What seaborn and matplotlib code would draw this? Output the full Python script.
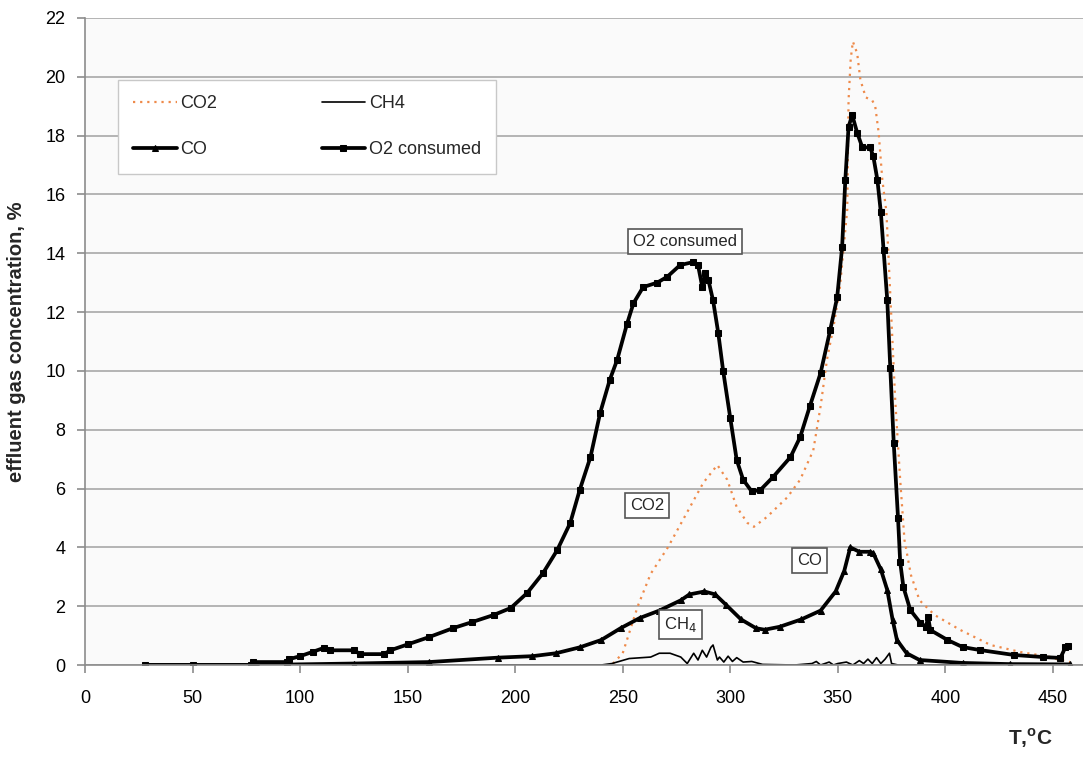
import matplotlib
matplotlib.use("Agg")
import matplotlib.pyplot as plt
import seaborn as sns
import pandas as pd

# ---- data ----
t_o2 = [28, 50, 77, 78, 94, 95, 100, 106, 111, 114, 125, 128, 139, 142, 150, 160, 171, 180, 190, 198,
        205.6, 213, 219.5, 225.6, 230, 235, 239.5, 244, 247.4, 252, 255, 259.5, 266, 270.7, 276.7, 282.8,
        285, 287, 288.4, 289.8, 292, 294.4, 296.7, 300, 303, 306, 310, 314, 320, 328, 332.5, 337, 342,
        346.5, 349.7, 352, 353.5, 355, 356.7, 359, 361.4, 365, 366.5, 368.4, 370, 371.3, 373, 374.4, 376,
        378, 379, 380.5, 383.7, 388.4, 391, 392, 393, 401, 408, 416, 432, 445.6, 453.5, 455.8, 457]
v_o2 = [0, 0, 0, 0.1, 0.1, 0.2, 0.3, 0.45, 0.58, 0.5, 0.5, 0.37, 0.37, 0.5, 0.7, 0.95, 1.25, 1.46, 1.7, 1.94,
        2.45, 3.13, 3.9, 4.83, 5.95, 7.07, 8.57, 9.7, 10.37, 11.6, 12.3, 12.85, 13.0, 13.2, 13.6, 13.7,
        13.6, 12.85, 13.33, 13.1, 12.4, 11.3, 10.0, 8.4, 6.97, 6.3, 5.9, 5.95, 6.4, 7.07, 7.75, 8.8, 9.93,
        11.4, 12.5, 14.2, 16.5, 18.3, 18.7, 18.1, 17.6, 17.6, 17.3, 16.5, 15.4, 14.1, 12.4, 10.1, 7.55,
        5.0, 3.5, 2.65, 1.87, 1.43, 1.3, 1.63, 1.19, 0.85, 0.61, 0.51, 0.34, 0.27, 0.24, 0.6, 0.65]

t_co = [28, 80, 125, 160, 192, 208, 219, 230, 240, 249, 258, 267, 277, 281, 288, 293, 298, 305, 312, 316,
        323, 333, 342, 349, 353, 355.8, 360, 365, 366.5, 370, 373, 375.5, 377.5, 382, 388, 408, 430, 458]
v_co = [0, 0, 0.05, 0.1, 0.25, 0.3, 0.4, 0.6, 0.85, 1.25, 1.6, 1.85, 2.2, 2.4, 2.5, 2.4, 2.05, 1.55, 1.25, 1.2,
        1.3, 1.55, 1.85, 2.5, 3.2, 4.0, 3.85, 3.85, 3.8, 3.25, 2.55, 1.53, 0.85, 0.4, 0.17, 0.07, 0.03, 0.02]

t_co2 = [245.5, 250, 257, 263, 271, 280, 287.5, 294, 298.6, 303, 308, 311, 317, 326.5, 332.5, 338.6, 342,
         345, 348, 351, 352.6, 354.4, 355, 356, 357, 359, 360.5, 363, 366, 367.4, 369, 370.7, 372.6,
         376.7, 379, 381, 384, 388, 395, 407, 421, 435, 449, 453, 458]
v_co2 = [0.05, 0.4, 2.0, 3.1, 4.0, 5.2, 6.2, 6.8, 6.3, 5.37, 4.83, 4.7, 5.03, 5.7, 6.3, 7.3, 8.8,
         10.4, 11.5, 12.85, 14.1, 15.5, 19.2, 20.6, 21.2, 20.8, 19.9, 19.3, 19.2, 19.0, 18.1, 16.5, 15.4,
         9.0, 6.3, 4.25, 3.06, 2.2, 1.7, 1.19, 0.68, 0.44, 0.27, 0.17, 0.1]

t_ch4 = [28, 240, 245, 253, 263, 267, 272, 277, 280, 283, 285, 287, 289, 291, 292, 294, 295, 297, 299, 301,
         303, 306, 310, 315, 330, 338, 340, 342, 346, 348, 350, 354, 357, 360, 362, 364, 366, 368, 370,
         372, 374, 375, 378, 400, 458]
v_ch4 = [0, 0, 0.05, 0.22, 0.27, 0.4, 0.4, 0.27, 0.05, 0.4, 0.17, 0.5, 0.27, 0.6, 0.68, 0.17, 0.27, 0.1,
         0.3, 0.12, 0.25, 0.1, 0.12, 0.02, 0.0, 0.05, 0.12, 0.0, 0.1, 0.0, 0.05, 0.1, 0.0, 0.15, 0.05, 0.2,
         0.05, 0.25, 0.05, 0.2, 0.4, 0.05, 0.0, 0.0, 0.0]

x_ticks = [0, 50, 100, 150, 200, 250, 300, 350, 400, 450]
y_ticks = [0, 2, 4, 6, 8, 10, 12, 14, 16, 18, 20, 22]

sns.set_theme(style="white")
plt.rcParams['font.family'] = ['Liberation Sans', 'DejaVu Sans']

fig = plt.figure(figsize=(10.83, 7.57), dpi=100)
ax = fig.add_axes([85 / 1083, 92 / 757, 1 - 85 / 1083, (665 - 18) / 757])
ax.set_facecolor('#fafafa')

sns.lineplot(x=t_co2, y=v_co2, ax=ax, color='#ee8a4a', lw=1.6, linestyle=(0, (1, 2.2)),
             label='CO2', sort=False, estimator=None)
sns.lineplot(x=t_co, y=v_co, ax=ax, color='black', lw=2.7, marker='^', markersize=4,
             markeredgecolor='black', label='CO', sort=False, estimator=None)
sns.lineplot(x=t_ch4, y=v_ch4, ax=ax, color='black', lw=1.2, label='CH4', sort=False, estimator=None)
sns.lineplot(x=t_o2, y=v_o2, ax=ax, color='black', lw=2.7, marker='s', markersize=4,
             markeredgecolor='black', label='O2 consumed', sort=False, estimator=None)

ax.set_xlim(0, 464)
ax.set_ylim(0, 22)
ax.set_xticks(x_ticks)
ax.set_yticks(y_ticks)
ax.yaxis.grid(True, color='#a8a8a8', lw=1.2)
ax.xaxis.grid(False)
ax.set_axisbelow(True)
for s in ['top', 'right']:
    ax.spines[s].set_visible(False)
for s in ['left', 'bottom']:
    ax.spines[s].set_color('#8c8c8c')
    ax.spines[s].set_linewidth(1.2)
ax.tick_params(axis='both', which='major', direction='out', length=6, width=1.2,
               color='#8c8c8c', labelsize=13, labelcolor='black', bottom=True, left=True)
ax.tick_params(axis='x', pad=12)
ax.tick_params(axis='y', pad=8)
ax.set_xlabel('')
ax.set_ylabel('effluent gas concentration, %', fontsize=14.5, fontweight='bold', labelpad=14)

handles, labels = ax.get_legend_handles_labels()
order = ['CO2', 'CO', 'CH4', 'O2 consumed']
hmap = dict(zip(labels, handles))
leg = ax.legend([hmap[k] for k in order], order, ncol=2, loc='upper left',
                bbox_to_anchor=(0.033, 0.904), borderaxespad=0, fontsize=13, frameon=True,
                fancybox=False, edgecolor='#c8c8c8', facecolor='white', framealpha=1,
                columnspacing=5.8, handlelength=2.4, handletextpad=0.2, labelspacing=1.6,
                borderpad=0.85)
leg.get_frame().set_linewidth(1.0)

box = dict(boxstyle='square,pad=0.3', fc='white', ec='#555555', lw=1.2)
ax.text(279, 14.4, 'O2 consumed', fontsize=12, ha='center', va='center', bbox=box)
ax.text(261.4, 5.44, 'CO2', fontsize=12, ha='center', va='center', bbox=box)
ax.text(337, 3.57, 'CO', fontsize=12, ha='center', va='center', bbox=box)
ax.text(276.7, 1.39, 'CH$_4$', fontsize=12, ha='center', va='center', bbox=box)

fig.text(1030 / 1083, 1 - 738 / 757, 'T,$^{\\mathregular{o}}$C', fontsize=15, fontweight='bold',
         ha='center', va='center')

fig.savefig('out.png', dpi=100)
